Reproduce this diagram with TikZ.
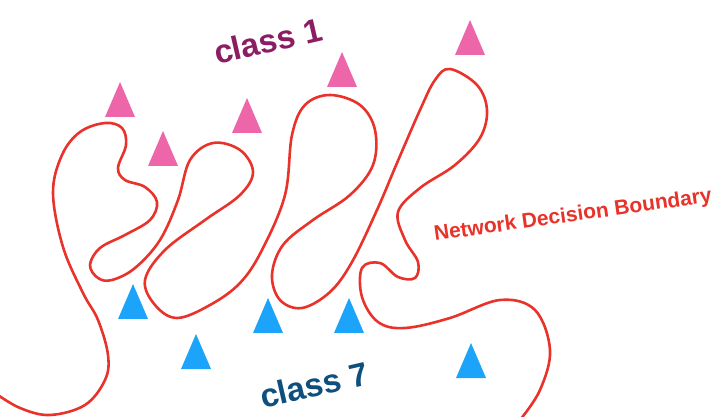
\documentclass[tikz,border=0pt]{standalone}
\usepackage{fontspec}
\setmainfont{Liberation Sans}
\definecolor{pinkc}{HTML}{EE66AA}
\definecolor{bluec}{HTML}{1CA4FA}
\definecolor{classone}{HTML}{8B1E62}
\definecolor{classseven}{HTML}{0E4F7E}
\definecolor{boundc}{HTML}{E8322A}
\tikzset{
  tri/.pic={\fill (-15,0) -- (15,0) -- (0,-35) -- cycle;},
  lbl/.style={inner sep=0pt},
  bound/.style={draw=boundc, line width=2.6pt, line join=round, line cap=round}
}
\begin{document}
\begin{tikzpicture}[x=1pt,y=-1pt]
\useasboundingbox (0,0) rectangle (716,417);
% class 1 triangles
\begin{scope}[pinkc]
\pic (p1) at (120,117) {tri};
\pic (p2) at (163,166) {tri};
\pic (p3) at (247,133) {tri};
\pic (p4) at (342,87) {tri};
\pic (p5) at (470,55) {tri};
\end{scope}
% class 7 triangles
\begin{scope}[bluec]
\pic (b1) at (133,319) {tri};
\pic (b2) at (196,369) {tri};
\pic (b3) at (268,333) {tri};
\pic (b4) at (349,333) {tri};
\pic (b5) at (471,378) {tri};
\end{scope}
% decision boundary
\draw[bound] plot[smooth, tension=0.6] coordinates {
(-5,393) (20,408) (50,415) (85,405) (105,380) (108,355) (98,320) (83,293)
(63,247) (53,193) (62,155) (80,132) (105,123) (122,128) (126,145) (118,168)
(125,180) (145,187) (157,202) (150,220) (125,235) (100,248) (90,265) (98,278)
(112,280) (135,268) (160,240) (178,200) (190,160) (213,143) (240,150) (253,172)
(240,195) (205,220) (165,250) (145,280) (155,305) (177,318) (210,305) (240,283)
(262,250) (285,195) (292,135) (305,105) (330,95) (360,105) (375,130) (373,165)
(350,195) (313,220) (283,245) (272,275) (280,300) (302,308) (330,292) (352,262)
(377,210) (397,163) (420,110) (435,80) (450,69) (477,85) (487,110) (480,138)
(455,165) (420,188) (398,212) (405,240) (418,262) (415,278) (398,277) (380,263)
(362,268) (362,297) (378,322) (405,328) (450,318) (500,300) (535,310) (550,350)
(540,390) (520,420)};
% labels
\node[lbl, text=classone, font=\bfseries\fontsize{33}{36}\selectfont, rotate=13] (c1) at (268,41) {class 1};
\node[lbl, text=classseven, font=\bfseries\fontsize{33}{36}\selectfont, rotate=13] (c7) at (314,385) {class 7};
\node[lbl, text=boundc, font=\bfseries\fontsize{21}{24}\selectfont, rotate=8] (nd) at (573,216) {Network Decision Boundary};
\end{tikzpicture}
\end{document}
